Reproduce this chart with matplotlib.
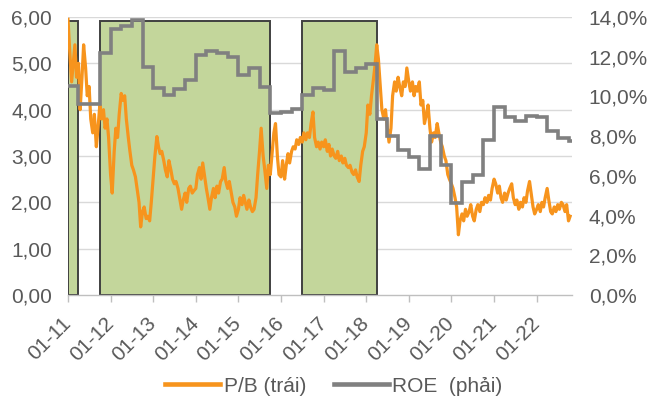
import matplotlib
matplotlib.use("Agg")
import matplotlib.pyplot as plt
import matplotlib.dates as mdates
from matplotlib.lines import Line2D
from matplotlib.ticker import FuncFormatter, FixedLocator
import numpy as np
import pandas as pd

plt.rcParams['font.family'] = ['Liberation Sans', 'DejaVu Sans']

# P/B, twice a month (1st and 15th), Jan 2011 - Oct 2022
pb_values = [
    # 2011
    5.95, 5.3, 4.6, 5.0, 5.4, 4.7, 5.0, 4.0, 4.7, 5.4, 4.9, 4.3,
    4.5, 3.8, 3.5, 3.9, 3.2, 3.6, 4.1, 3.8, 4.0, 3.6, 3.8, 3.4,
    # 2012
    2.6, 2.2, 3.1, 3.6, 3.4, 3.9, 4.35, 4.2, 4.3, 3.8, 3.4, 3.1,
    2.8, 2.7, 2.55, 2.3, 2.0, 1.47, 1.8, 1.9, 1.65, 1.7, 1.6, 2.0,
    # 2013
    2.55, 3.0, 3.42, 3.2, 3.05, 3.1, 2.9, 2.7, 2.55, 2.9, 2.7, 2.5,
    2.4, 2.45, 2.3, 2.1, 1.85, 2.05, 2.2, 2.0, 2.3, 2.35, 2.2, 2.25,
    # 2014
    2.3, 2.6, 2.75, 2.5, 2.85, 2.6, 2.3, 2.1, 1.85, 2.1, 2.3, 2.1,
    2.35, 2.2, 2.45, 2.5, 2.75, 2.45, 2.3, 2.45, 2.2, 2.0, 1.9, 1.7,
    # 2015
    1.85, 2.1, 1.95, 2.15, 2.0, 1.85, 2.05, 1.9, 1.8, 1.85, 2.1, 2.6,
    3.1, 3.6, 3.0, 2.7, 2.3, 2.8, 2.6, 3.0, 3.5, 3.7, 3.0, 2.6,
    # 2016
    2.55, 2.9, 2.5, 2.8, 3.05, 2.85, 3.1, 3.2, 3.15, 3.35, 3.25, 3.4,
    3.3, 3.5, 3.35, 3.5, 3.4, 3.7, 3.95, 3.4, 3.2, 3.3, 3.15, 3.3,
    # 2017
    3.2, 3.35, 3.1, 3.25, 3.0, 3.15, 3.0, 2.95, 3.1, 2.9, 3.0, 2.85,
    2.95, 2.8, 2.75, 2.8, 2.65, 2.6, 2.7, 2.55, 2.45, 2.8, 3.1, 3.2,
    # 2018
    3.5, 4.1, 3.9, 4.3, 4.6, 4.9, 5.4, 5.1, 4.5, 4.0, 3.8, 4.0,
    3.6, 3.3, 3.6, 4.3, 4.6, 4.4, 4.7, 4.5, 4.3, 4.6, 4.5, 4.9,
    # 2019
    4.6, 4.4, 4.6, 4.3, 4.5, 4.4, 4.6, 4.1, 4.2, 3.7, 3.9, 4.1,
    3.6, 3.3, 3.5, 3.4, 3.7, 3.5, 3.3, 3.2, 3.0, 2.9, 2.6, 2.5,
    # 2020
    2.4, 2.3, 2.1, 1.9, 1.3, 1.6, 1.75, 1.6, 1.85, 1.7, 1.8, 1.95,
    1.7, 1.6, 1.85, 1.95, 1.8, 2.0, 1.95, 2.1, 2.0, 2.15, 2.05, 2.3,
    # 2021
    2.5, 2.4, 2.2, 2.35, 2.1, 2.0, 2.2, 2.05, 2.2, 2.3, 2.4, 2.1,
    1.95, 2.05, 1.85, 2.0, 1.9, 2.1, 2.0, 2.25, 2.45, 2.2, 1.9, 1.75,
    # 2022 (Jan - Oct)
    1.85, 1.95, 1.8, 2.0, 1.9, 2.1, 2.3, 2.05, 1.8, 1.75, 1.9, 1.8,
    1.95, 1.85, 2.0, 1.95, 1.8, 1.95, 1.6, 1.7,
]
pb_dates = pd.date_range('2011-01-01', periods=len(pb_values), freq='SMS')

# ROE (%), quarterly, 2011Q1 - 2022Q4
roe_values = [
    10.5, 9.6, 9.6, 12.2,
    13.4, 13.55, 13.85, 11.5,
    10.4, 10.05, 10.35, 10.85,
    12.1, 12.3, 12.2, 12.0,
    11.1, 11.45, 10.45, 9.15,
    9.2, 9.35, 10.05, 10.4,
    10.3, 12.3, 11.25, 11.45,
    11.65, 8.85, 8.0, 7.3,
    6.95, 6.35, 8.0, 6.55,
    4.65, 5.7, 6.05, 7.8,
    9.45, 8.95, 8.75, 9.0,
    8.95, 8.25, 7.9, 7.75,
]
roe_starts = pd.date_range('2011-01-01', periods=len(roe_values), freq='QS')
series_end = pd.Timestamp('2022-10-31')

# Shaded periods
shade_start = ['2011-01-01', '2011-10-01', '2016-07-01']
shade_end = ['2011-03-31', '2015-09-30', '2018-03-31']
shade_level = 5.92

year_ticks = pd.date_range('2011-01-01', '2022-01-01', freq='YS')

ORANGE = '#F7941D'
GREY = '#808080'
GREEN = '#C3D69B'
TEXT = '#595959'
GRID = '#D9D9D9'
FS = 15

fig = plt.figure(figsize=(6.51, 4.01), dpi=100)
ax = fig.add_axes([68 / 651, 106 / 401, 504 / 651, 278 / 401])
ax2 = ax.twinx()

x0 = mdates.date2num(pd.Timestamp('2011-01-01'))
x1 = mdates.date2num(series_end)

# shaded blocks
s0 = mdates.date2num(pd.to_datetime(shade_start))
s1 = mdates.date2num(pd.to_datetime(shade_end))
ax.bar(s0, [shade_level] * len(s0), width=s1 - s0, align='edge',
       color=GREEN, edgecolor='#404040', linewidth=1.4, zorder=2)

# gridlines
for v in range(1, 7):
    ax.axhline(v, color=GRID, linewidth=1.0, zorder=1)

ax.plot(mdates.date2num(pb_dates), pb_values, color=ORANGE, linewidth=2.3,
        solid_joinstyle='round', zorder=3)

edges = np.append(mdates.date2num(roe_starts), x1)
ax2.stairs(np.array(roe_values) / 100, edges, baseline=None, color=GREY,
           linewidth=2.6, zorder=4)

ax.set_xlim(x0, x1)
ax.set_ylim(0, 6)
ax2.set_ylim(0, 0.14)

ax.yaxis.set_major_locator(FixedLocator(np.arange(0, 7)))
ax.yaxis.set_major_formatter(FuncFormatter(lambda v, p: f"{v:.2f}".replace('.', ',')))
ax2.yaxis.set_major_locator(FixedLocator(np.arange(0, 0.141, 0.02)))
ax2.yaxis.set_major_formatter(FuncFormatter(lambda v, p: f"{v * 100:.1f}%".replace('.', ',')))

ax.xaxis.set_major_locator(FixedLocator(mdates.date2num(year_ticks)))
ax.xaxis.set_major_formatter(mdates.DateFormatter('%m-%y'))

for a in (ax, ax2):
    for s in ('top', 'left', 'right', 'bottom'):
        a.spines[s].set_visible(False)
ax.spines['bottom'].set_visible(True)
ax.spines['bottom'].set_color('#BFBFBF')
ax.spines['bottom'].set_linewidth(1.0)
ax.spines['bottom'].set_zorder(5)

ax.tick_params(axis='y', length=0, pad=11.5, labelsize=FS, labelcolor=TEXT)
ax2.tick_params(axis='y', length=0, pad=12, labelsize=FS, labelcolor=TEXT)
ax.tick_params(axis='x', length=5, width=1.0, color='#BFBFBF', pad=13,
               labelsize=FS, labelcolor=TEXT)
for lbl in ax.get_xticklabels():
    lbl.set_rotation(45)
    lbl.set_ha('right')
    lbl.set_va('center')
    lbl.set_rotation_mode('anchor')

handles = [Line2D([], [], color=ORANGE, linewidth=3.3),
           Line2D([], [], color=GREY, linewidth=3.3)]
fig.legend(handles, ['P/B (trái)', 'ROE  (phải)'], loc='center',
           bbox_to_anchor=(0.513, 0.037), ncol=2, frameon=False,
           fontsize=FS, labelcolor=TEXT, handlelength=2.65,
           handletextpad=0.15, columnspacing=1.35)

fig.savefig('out.png', dpi=100)
